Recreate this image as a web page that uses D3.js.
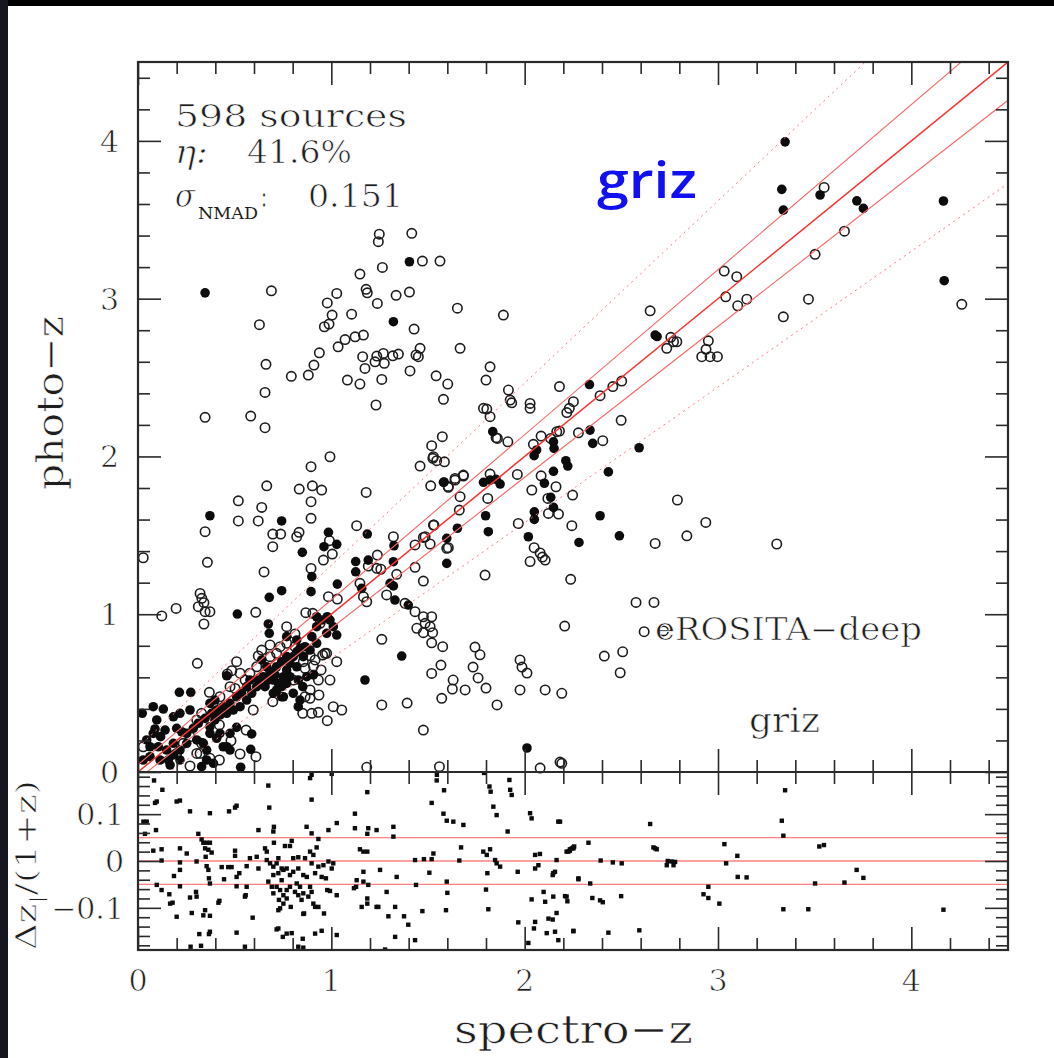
<!DOCTYPE html>
<html><head><meta charset="utf-8">
<script src="https://cdn.jsdelivr.net/npm/d3@7"></script>
<style>
html,body{margin:0;padding:0;background:#fff;}
svg{display:block;}
text{font-family:"DejaVu Serif",serif;fill:#1e1e1e;}
text.thin{stroke:#fff;stroke-width:0.7px;paint-order:normal;}
</style></head>
<body>
<svg id="c" width="1054" height="1058"></svg>
<script>
// ---------------- data ----------------
const filledPoints = [
[0.347,3.037],[1.404,3.234],[1.321,2.854],[1.580,1.836],
[0.372,1.624],[0.743,1.591],[0.850,1.392],[0.985,1.519],[0.962,1.428],[1.028,1.443],[1.186,1.508],[0.514,1.001],[0.743,1.149],[0.679,1.107],[0.899,1.238],[0.895,1.143],[1.031,1.191],[1.126,1.334],[1.126,1.269],[1.191,1.343],[1.321,1.333],[1.324,1.434],[1.157,1.164],[1.321,1.179],[1.304,1.196],[1.329,1.090],[1.398,1.058],[1.597,1.322],[1.597,1.481],[1.364,0.735],[1.174,0.583],[0.829,0.414],[0.852,0.541],[0.907,0.615],[0.743,0.477],[0.588,0.241],[0.531,0.030],[0.583,0.144],[0.510,0.283],[0.459,0.160],[0.372,0.435],[0.398,0.456],[0.214,0.505],[0.273,0.505],[0.459,0.610],[0.679,0.879],[0.674,0.938],[0.924,0.984],[0.979,0.984],[1.028,0.868],[0.022,0.372],[0.079,0.414],[0.131,0.399],[0.097,0.330],[0.088,0.273],[0.117,0.224],[0.183,0.350],[0.217,0.372],[0.269,0.393],[0.200,0.277],[0.226,0.255],[0.183,0.182],[0.148,0.139],[0.062,0.097],[0.027,0.076],[0.114,0.076],[0.217,0.076],[0.166,0.044],[0.329,0.034],[0.338,0.182],[0.304,0.203],[0.372,0.245],[0.355,0.139],[0.355,0.076],[0.390,0.055],
[0.640,0.710],[0.666,0.667],[0.683,0.636],[0.717,0.667],[0.700,0.583],[0.726,0.562],[0.752,0.604],[0.769,0.646],[0.786,0.689],[0.803,0.731],[0.821,0.762],[0.838,0.784],[0.769,0.562],[0.743,0.541],[0.717,0.520],[0.700,0.499],[0.657,0.541],[0.622,0.583],[0.579,0.583],[0.562,0.541],[0.536,0.499],[0.510,0.477],[0.476,0.435],[0.441,0.414],[0.407,0.393],[0.381,0.372],[0.347,0.340],[0.312,0.309],[0.286,0.277],[0.252,0.245],[0.769,0.858],[0.821,0.837],[0.864,0.794],[0.899,0.858],[0.924,0.921],[0.950,0.963],[0.993,0.963],[1.010,0.921],[0.976,0.879],[0.924,0.816],[0.890,0.773],[0.855,0.731],[0.821,0.667],[0.786,0.604],[0.829,0.583],[0.873,0.604],[0.803,0.499],[0.838,0.456],[0.752,0.477],[0.769,0.731],[0.743,0.699],[0.709,0.615],[0.674,0.583],[0.648,0.604],[0.614,0.541],[0.588,0.499],[0.562,0.456],[0.528,0.414],[0.493,0.393],[0.459,0.372],[0.424,0.361],[0.398,0.330],[0.372,0.287],[0.424,0.245],[0.476,0.245],[0.407,0.214],[0.441,0.160],[0.476,0.139],[0.252,0.182],[0.217,0.139],[0.183,0.108],[0.157,0.076],[0.105,0.160],[0.062,0.160],[0.045,0.203],[0.079,0.245],[0.140,0.266],
[1.835,2.157],[2.335,2.456],[2.675,2.769],[2.685,2.760],[2.338,2.167],[2.352,2.083],[2.592,2.055],[2.433,1.902],[2.390,1.624],[2.490,1.497],[2.281,1.455],[2.149,1.906],[2.213,1.973],[2.223,1.939],[2.149,2.093],[2.152,2.051],[2.062,2.041],[2.049,2.005],[2.102,1.830],[2.135,1.741],[2.149,1.677],[2.050,1.649],[2.050,1.601],[1.798,1.624],[1.812,1.523],[1.787,1.836],[1.821,1.850],[1.852,1.855],[1.873,1.825],[1.652,1.545],[1.583,1.838],[2.019,1.491],[2.012,0.152],
[3.347,3.994],[3.330,3.693],[3.338,3.561],[3.528,3.657],[3.718,3.620],[3.752,3.572],[4.166,3.619],[4.170,3.114]
];
const openPoints = [
[0.690,3.050],[0.628,2.835],[0.662,2.584],[0.657,2.406],[0.347,2.248],[0.583,2.256],[0.657,2.182],[0.793,2.508],[0.881,2.516],[0.910,2.579],[0.938,2.657],[1.035,2.695],[1.071,2.741],[1.123,2.758],[1.166,2.769],[0.964,2.822],[0.988,2.839],[1.004,2.896],[0.979,2.973],[1.028,3.033],[1.105,2.902],[1.148,3.156],[1.180,3.059],[1.186,3.037],[1.238,2.970],[1.264,3.198],[1.248,3.409],[1.243,3.361],[1.416,3.414],[1.471,3.238],[1.562,3.238],[1.335,3.021],[1.404,3.042],[1.428,2.807],[1.652,2.940],[1.666,2.685],[1.459,2.685],[1.438,2.643],[1.450,2.632],[1.162,2.632],[1.226,2.600],[1.235,2.636],[1.269,2.653],[1.274,2.590],[1.318,2.638],[1.347,2.649],[1.174,2.558],[1.083,2.484],[1.148,2.459],[1.261,2.488],[1.231,2.326],[1.407,2.542],[1.542,2.511],[1.602,2.459],[1.580,2.362],[1.574,2.125],[1.519,2.068],[1.528,1.998],[1.545,1.973],[1.585,1.966],[1.459,1.939],[1.514,1.814],[1.605,1.810],[1.640,1.861],[1.683,1.882],[0.993,1.998],[0.895,1.935],[0.666,1.814],[0.834,1.793],[0.902,1.814],[0.950,1.787],[1.180,1.772],
[0.027,1.358],[0.123,0.989],[0.197,1.037],[0.312,1.048],[0.341,1.073],[0.321,1.132],[0.330,1.101],[0.347,1.016],[0.372,1.016],[0.341,0.938],[0.359,1.329],[0.347,1.523],[0.519,1.719],[0.519,1.591],[0.640,1.677],[0.622,1.591],[0.697,1.508],[0.738,1.508],[0.697,1.428],[0.821,1.491],[0.833,1.519],[0.895,1.713],[0.895,1.608],[0.990,1.466],[1.005,1.381],[0.959,1.343],[1.131,1.561],[0.652,1.268],[0.609,1.012],[0.895,1.290],[0.985,1.111],[1.031,1.096],[1.191,1.305],[1.238,1.375],[1.235,1.291],[1.256,1.285],[1.321,1.491],[1.338,1.253],[1.148,1.196],[1.166,1.111],[1.183,1.079],[1.286,1.122],[1.381,1.069],[1.433,1.297],[1.433,1.439],[1.476,1.487],[1.528,1.565],[1.476,1.210],[1.597,1.418],[1.433,1.016],[1.476,0.984],[1.519,0.984],[1.485,0.942],[1.511,0.921],[1.442,0.911],[1.476,0.883],[1.524,0.883],[1.519,0.819],[1.576,0.794],[1.567,0.678],[1.519,0.625],[1.571,0.467],[1.626,0.526],[1.476,0.266],[1.261,0.841],[1.261,0.425],[1.183,0.030],[1.559,0.034],[1.028,0.699],[1.054,0.393],[1.010,0.414],[0.979,0.325],[0.933,0.378],[0.936,0.488],[0.890,0.467],[0.852,0.372],[0.947,0.647],[0.976,0.752],[0.907,0.672],[0.855,0.699],[0.697,0.446],[0.596,0.393],[0.559,0.266],[0.610,0.097],[0.528,0.114],[0.481,0.198],[0.421,0.076],[0.372,0.087],[0.421,0.298],[0.369,0.505],[0.307,0.689],[0.462,0.621],[0.485,0.642],[0.510,0.699],[0.502,0.530],[0.622,0.736],[0.769,0.816],[0.812,0.875],[0.868,1.010],[0.904,1.006],[0.942,0.942],[0.955,0.741],[0.890,0.737],[0.027,0.160],[0.269,0.038],[0.321,0.118],
[0.769,0.921],[0.812,0.794],[0.855,0.752],[0.967,0.752],[0.916,0.710],[0.864,0.657],[0.933,0.583],[0.890,0.520],[0.864,0.477],[0.899,0.372],[0.717,0.752],[0.683,0.731],[0.614,0.667],[0.554,0.583],[0.476,0.541],[0.424,0.477],[0.390,0.435],[0.329,0.372],[0.304,0.330],[0.269,0.224],[0.329,0.182],[0.304,0.118],[0.200,0.118],[0.234,0.182],[0.803,0.583],[0.579,0.626],[0.528,0.626],[0.640,0.773],[0.683,0.805],[0.735,0.794],[0.993,0.583],
[1.890,2.896],[1.821,2.568],[1.800,2.484],[1.916,2.421],[1.925,2.357],[1.933,2.340],[1.787,2.305],[1.804,2.300],[1.821,2.252],[1.852,2.119],[1.913,2.093],[2.028,2.336],[2.028,2.305],[2.180,2.443],[2.218,2.278],[2.231,2.305],[2.252,2.347],[2.390,2.385],[2.456,2.443],[2.502,2.478],[2.649,2.923],[2.735,2.685],[2.756,2.755],[2.770,2.727],[2.787,2.727],[2.950,2.733],[2.938,2.679],[2.916,2.632],[2.959,2.632],[2.997,2.632],[2.180,2.161],[2.278,2.150],[2.404,2.100],[2.499,2.229],[2.790,1.724],[2.937,1.582],[2.839,1.497],[2.675,1.449],[2.244,1.561],[2.248,1.755],[2.166,2.157],[2.135,2.114],[2.085,2.129],[2.045,2.077],[2.085,1.877],[2.162,1.808],[2.120,1.734],[2.123,1.639],[2.175,1.635],[2.037,1.787],[1.962,1.886],[1.809,1.734],[1.821,1.888],[1.666,1.745],[1.662,1.660],[1.683,1.876],[1.640,1.850],[1.605,1.804],[1.531,1.565],[1.485,1.491],[1.511,1.445],[1.605,1.422],[1.967,1.575],[2.049,1.422],[2.028,1.334],[2.092,1.362],[1.859,2.114],[1.525,1.988],
[3.549,3.705],[3.654,3.428],[3.502,3.281],[3.468,2.997],[3.338,2.885],[3.032,3.175],[3.097,3.139],[3.040,3.012],[3.102,2.955],[3.149,2.997],[4.261,2.964],
[3.304,1.445],[2.238,1.221],[2.576,1.075],[2.669,1.075],[2.207,0.925],[2.618,0.889],[2.718,0.894],[2.412,0.735],[2.507,0.762],[2.494,0.629],[2.192,0.499],[2.192,0.055],
[1.743,0.792],[1.769,0.743],[1.733,0.665],[1.759,0.596],[1.800,0.532],[1.857,0.425],[1.692,0.520],[1.630,0.583],[1.976,0.710],[1.986,0.665],[2.012,0.627],[2.106,0.520],[1.976,0.520],[2.080,0.025],[2.183,0.063],[1.795,1.248],[2.106,1.343],[2.080,1.388],[1.392,0.437]
];
const residualPoints = [
[0.083,0.172],[0.126,0.152],[0.088,0.124],[0.097,0.127],[0.200,0.127],[0.217,0.129],[0.269,0.106],[0.372,0.102],[0.471,0.106],[0.510,0.118],[0.502,0.114],[0.674,0.161],[0.679,0.114],[0.898,0.184],[0.890,0.177],[1.002,0.186],[0.898,0.131],[1.186,0.147],[1.122,0.101],[1.028,0.081],[0.985,0.066],[0.872,0.073],[0.898,0.059],[0.933,0.047],[1.122,0.070],[1.191,0.070],[1.234,0.066],[1.186,0.058],[1.321,0.073],[1.321,0.052],[1.519,0.124],[1.546,0.184],[1.545,0.172],[1.583,0.151],[1.580,0.101],[1.597,0.086],[1.631,0.084],[1.683,0.077],[1.790,0.188],[1.818,0.159],[1.824,0.148],[1.921,0.173],[1.925,0.152],[1.933,0.141],[1.838,0.116],[1.855,0.098],[1.912,0.063],[2.028,0.102],[2.036,0.091],[2.174,0.084],[2.252,0.027],[2.234,0.022],[0.028,0.084],[0.045,0.084],[0.093,0.066],[0.036,0.058],[0.312,0.058],[0.329,0.046],[0.338,0.039],[0.355,0.039],[0.372,0.039],[0.347,0.027],[0.364,0.024],[0.381,0.018],[0.079,0.022],[0.122,0.025],[0.217,0.027],[0.252,0.016],[0.122,0.001],[0.217,-0.003],[0.217,-0.019],[0.303,-0.001],[0.350,0.009],[0.355,-0.011],[0.364,-0.019],[0.367,-0.037],[0.372,-0.048],[0.186,-0.032],[0.097,-0.051],[0.122,-0.062],[0.217,-0.054],[0.162,-0.071],[0.179,-0.089],[0.166,-0.091],[0.269,-0.078],[0.303,-0.076],[0.300,-0.066],[0.200,-0.119],[0.278,-0.111],[0.338,-0.116],[0.372,-0.117],[0.347,-0.105],[0.421,-0.085],[0.416,-0.089],[0.317,-0.156],[0.372,-0.151],[0.367,-0.156],[0.272,-0.183],[0.326,-0.181],[0.433,-0.013],[0.467,-0.013],[0.484,-0.013],[0.445,-0.039],[0.502,0.022],[0.502,0.011],[0.524,-0.026],[0.510,-0.034],[0.510,-0.054],[0.562,-0.055],[0.553,-0.076],[0.557,-0.073],[0.623,0.066],[0.579,0.006],[0.562,-0.011],[0.623,-0.016],[0.614,0.009],[0.657,0.027],[0.666,0.020],[0.703,0.073],[0.700,0.063],[0.703,0.039],[0.666,0.002],[0.683,-0.005],[0.700,-0.012],[0.717,-0.005],[0.760,0.032],[0.786,0.032],[0.795,0.043],[0.726,0.006],[0.743,-0.016],[0.752,-0.019],[0.700,-0.030],[0.726,-0.026],[0.743,-0.041],[0.674,-0.044],[0.692,-0.055],[0.717,-0.055],[0.735,-0.062],[0.700,-0.069],[0.752,-0.073],[0.769,-0.062],[0.786,-0.055],[0.729,-0.083],[0.752,-0.091],[0.769,-0.080],[0.790,-0.098],[0.726,-0.105],[0.735,-0.101],[0.821,-0.048],[0.838,-0.055],[0.812,-0.066],[0.829,-0.073],[0.855,-0.069],[0.846,-0.083],[0.864,0.006],[0.890,0.020],[0.907,0.013],[0.924,0.029],[0.803,0.006],[0.829,0.008],[0.769,-0.016],[0.786,-0.030],[0.803,-0.023],[0.829,-0.016],[0.855,-0.030],[0.873,-0.034],[0.898,-0.005],[0.916,-0.026],[0.933,-0.012],[0.959,-0.009],[0.985,-0.001],[1.010,-0.005],[1.002,-0.016],[0.950,-0.034],[0.972,-0.037],[0.890,-0.055],[0.898,-0.066],[0.881,-0.076],[0.907,-0.091],[0.916,-0.098],[0.933,-0.098],[0.979,-0.062],[0.993,-0.064],[1.028,-0.073],[0.859,-0.112],[0.855,-0.113],[0.962,-0.112],[0.916,-0.155],[0.950,-0.149],[0.852,-0.166],[0.749,-0.162],[0.769,-0.155],[0.795,-0.154],[0.717,-0.146],[0.726,-0.144],[0.829,-0.183],[0.855,-0.185],[0.593,-0.121],[0.510,-0.153],[0.553,-0.183],[1.148,0.025],[1.166,0.020],[1.186,0.020],[1.166,-0.023],[1.131,-0.041],[1.166,-0.044],[1.191,-0.051],[1.128,-0.055],[1.117,-0.058],[1.252,-0.019],[1.286,-0.066],[1.338,-0.034],[1.186,-0.080],[1.186,-0.091],[1.157,-0.098],[1.234,-0.098],[1.243,-0.098],[1.330,-0.098],[1.295,-0.118],[1.376,-0.118],[1.398,-0.136],[1.330,-0.162],[1.433,-0.169],[1.028,-0.158],[1.278,-0.189],[1.433,0.002],[1.479,0.004],[1.528,0.016],[1.519,0.004],[1.438,-0.051],[1.507,-0.025],[1.597,-0.044],[1.600,-0.068],[1.593,-0.105],[1.471,-0.107],[1.671,0.029],[1.662,0.001],[1.786,0.020],[1.821,0.025],[1.804,0.013],[1.847,0.002],[1.855,-0.005],[1.873,-0.012],[1.807,-0.026],[1.800,-0.061],[1.812,-0.103],[1.964,-0.023],[2.054,0.013],[2.079,0.015],[2.054,-0.016],[2.071,-0.009],[2.165,0.002],[2.148,-0.026],[2.157,-0.023],[2.145,-0.030],[2.217,0.020],[2.234,0.025],[2.252,0.029],[2.278,-0.037],[2.036,-0.082],[2.098,-0.066],[2.106,-0.087],[2.148,-0.076],[2.217,-0.076],[1.967,-0.131],[2.054,-0.130],[2.048,-0.144],[2.123,-0.123],[2.145,-0.125],[2.165,-0.111],[2.114,-0.154],[2.157,-0.151],[2.252,-0.149],[2.174,-0.169],[2.019,-0.175],
[2.183,0.084],[2.649,0.079],[3.347,0.151],[3.330,0.086],[3.338,0.054],[2.330,0.039],[2.226,0.020],[2.244,0.027],[2.256,0.031],[2.666,0.029],[2.683,0.025],[2.675,0.027],[3.033,0.036],[3.100,0.011],[3.042,-0.005],[2.393,0.001],[2.456,-0.003],[2.502,-0.005],[2.740,0.000],[2.735,-0.009],[2.770,-0.009],[2.778,-0.002],[2.760,-0.001],[3.524,0.031],[3.548,0.034],[2.278,-0.039],[2.339,-0.048],[3.102,-0.034],[3.148,-0.035],[3.502,-0.048],[3.654,-0.046],[3.717,-0.019],[3.752,-0.036],[2.950,-0.055],[2.925,-0.071],[2.950,-0.079],[3.007,-0.091],[2.209,-0.075],[2.221,-0.086],[2.350,-0.079],[2.390,-0.084],[2.404,-0.088],[2.499,-0.075],[3.338,-0.103],[3.467,-0.103],[4.166,-0.104],[2.252,-0.150],[2.433,-0.153],[2.593,-0.148]
];
// axis ticks / labels
const xMajorTicks = [0,1,2,3,4];
const xTickLabels = ["0","1","2","3","4"];
const yMajorTicks = [0,1,2,3,4];
const yTickLabels = ["0","1","2","3","4"];
const resMajorTicks = [-0.1,0,0.1];
const resTickLabels = ["\u22120.1","0","0.1"];
const minorStepMain = 0.2, minorStepRes = 0.02;
// reference lines: main panel (fraction of 1+z) and residual panel
const solidBands = [0.046,-0.044];
const dottedBands = [0.155,-0.14];
const resLines = [-0.05,0,0.05];
const statsLines = ["598 sources","41.6%","0.151"];

// ---------------- drawing ----------------
const svg = d3.select("#c");
svg.append("rect").attr("x",0).attr("y",0).attr("width",1054).attr("height",6).attr("fill","#000");
svg.append("rect").attr("x",0).attr("y",0).attr("width",8).attr("height",1058).attr("fill","#161620");

const L=138,R=1008,T=62,MID=772,B=950;
const x = d3.scaleLinear().domain([0,4.5]).range([L,R]);
const y = d3.scaleLinear().domain([0,4.5]).range([MID,T]);
const yr = d3.scaleLinear().domain([-0.19,0.19]).range([B,MID]);

const ink="#2a2a2a";
const defs = svg.append("defs");
defs.append("clipPath").attr("id","clipMain")
  .append("rect").attr("x",L).attr("y",T).attr("width",R-L).attr("height",MID-T);
defs.append("clipPath").attr("id","clipRes")
  .append("rect").attr("x",L).attr("y",MID).attr("width",R-L).attr("height",B-MID);

// points
const gp = svg.append("g");
gp.selectAll("circle.o").data(openPoints).join("circle").attr("class","o")
  .attr("cx",d=>x(d[0])).attr("cy",d=>y(d[1])).attr("r",4.7)
  .attr("fill","none").attr("stroke","#1c1c1c").attr("stroke-width",1.6);
gp.selectAll("circle.f").data(filledPoints).join("circle").attr("class","f")
  .attr("cx",d=>x(d[0])).attr("cy",d=>y(d[1])).attr("r",4.8).attr("fill","#0c0c0c");

// reference lines main
const gl = svg.append("g").attr("clip-path","url(#clipMain)");
const zs = [0,4.5];
gl.append("line").attr("x1",x(0)).attr("y1",y(0)).attr("x2",x(4.5)).attr("y2",y(4.5))
  .attr("stroke","#ff3030").attr("stroke-width",1.5);
solidBands.forEach(k=>{
  gl.append("line").attr("x1",x(zs[0])).attr("y1",y(zs[0]+k*(1+zs[0]))).attr("x2",x(zs[1])).attr("y2",y(zs[1]+k*(1+zs[1])))
    .attr("stroke","#ff6464").attr("stroke-width",1.1);
});
dottedBands.forEach(k=>{
  gl.append("line").attr("x1",x(zs[0])).attr("y1",y(zs[0]+k*(1+zs[0]))).attr("x2",x(zs[1])).attr("y2",y(zs[1]+k*(1+zs[1])))
    .attr("stroke","#ff7a7a").attr("stroke-width",1).attr("stroke-dasharray","2,4");
});

// residual panel
const gr = svg.append("g").attr("clip-path","url(#clipRes)");
resLines.forEach(v=>{
  gr.append("line").attr("x1",L).attr("x2",R).attr("y1",yr(v)).attr("y2",yr(v))
    .attr("stroke","#ff8080").attr("stroke-width",1.4);
});
gr.selectAll("rect.r").data(residualPoints).join("rect").attr("class","r")
  .attr("x",d=>x(d[0])-2.2).attr("y",d=>yr(d[1])-2.2).attr("width",4.4).attr("height",4.4).attr("fill","#0c0c0c");

// ticks via d3 axes (inward)
const MAJ=23, MIN=12;
const xMinor = d3.range(0,4.5001,minorStepMain).filter(v=>Math.abs(v-Math.round(v))>1e-6);
const yMinor = xMinor;
const rMinor = d3.range(-0.18,0.1801,minorStepRes).filter(v=>Math.abs(v*10-Math.round(v*10))>1e-6);
function axisTicks(axisFn, scale, vals, size, tx, ty){
  const g = svg.append("g").attr("transform",`translate(${tx},${ty})`)
    .call(axisFn(scale).tickValues(vals).tickSize(size).tickFormat(""));
  g.select(".domain").remove();
  g.selectAll(".tick line").attr("stroke",ink).attr("stroke-width",1.6);
}
axisTicks(d3.axisBottom,x,xMajorTicks,-MAJ,0,MID);
axisTicks(d3.axisBottom,x,xMinor,-MIN,0,MID);
axisTicks(d3.axisTop,x,xMajorTicks,-MAJ,0,T);
axisTicks(d3.axisTop,x,xMinor,-MIN,0,T);
axisTicks(d3.axisLeft,y,yMajorTicks,-MAJ,L,0);
axisTicks(d3.axisLeft,y,yMinor,-MIN,L,0);
axisTicks(d3.axisRight,y,yMajorTicks,-MAJ,R,0);
axisTicks(d3.axisRight,y,yMinor,-MIN,R,0);
axisTicks(d3.axisTop,x,xMajorTicks,-MAJ,0,MID);
axisTicks(d3.axisTop,x,xMinor,-MIN,0,MID);
axisTicks(d3.axisBottom,x,xMajorTicks,-MAJ,0,B);
axisTicks(d3.axisBottom,x,xMinor,-MIN,0,B);
axisTicks(d3.axisLeft,yr,resMajorTicks,-MAJ,L,0);
axisTicks(d3.axisLeft,yr,rMinor,-MIN,L,0);
axisTicks(d3.axisRight,yr,resMajorTicks,-MAJ,R,0);
axisTicks(d3.axisRight,yr,rMinor,-MIN,R,0);

// frames
svg.append("rect").attr("x",L).attr("y",T).attr("width",R-L).attr("height",B-T)
  .attr("fill","none").attr("stroke",ink).attr("stroke-width",2.2);
svg.append("line").attr("x1",L).attr("x2",R).attr("y1",MID).attr("y2",MID)
  .attr("stroke",ink).attr("stroke-width",2.2);

// text helper: place and stretch horizontally to a target width
function txt(str, px, py, size, width, opt={}){
  const t = svg.append("text").attr("font-size",size).attr("class", opt.plain? null : "thin");
  if(opt.family) t.style("font-family",opt.family);
  if(opt.fill) t.style("fill",opt.fill);
  if(opt.weight) t.attr("font-weight",opt.weight);
  if(opt.italic) t.attr("font-style","italic");
  if(typeof str==="function") str(t); else t.text(str);
  const w = t.node().getComputedTextLength();
  const sx = width? width/w : 1;
  const rot = opt.rotate? ` rotate(${opt.rotate})`:"";
  let dx = 0;
  if(opt.anchor==="middle") dx = -w/2; else if(opt.anchor==="end") dx = -w;
  t.attr("transform",`translate(${px},${py})${rot} scale(${sx},1) translate(${dx},0)`);
  return t;
}

// tick labels
xMajorTicks.forEach((v,i)=>txt(xTickLabels[i], x(v), 991, 30, null, {anchor:"middle"}));
yMajorTicks.forEach((v,i)=>txt(yTickLabels[i], 119, y(v)+11, 30, null, {anchor:"end"}));
resMajorTicks.forEach((v,i)=>txt(resTickLabels[i], 124, yr(v)+11, 30, null, {anchor:"end"}));

// axis titles
txt("spectro\u2212z", 454, 1043, 40, 239);
txt("photo\u2212z", 63, 490, 38, 174, {rotate:-90});
txt(t=>{
  t.append("tspan").text("\u0394z");
  t.append("tspan").attr("font-size",18).attr("dy",7).text("|");
  t.append("tspan").attr("dy",-7).text("/(1+z)");
}, 36, 950, 27, 170, {rotate:-90});

// stats block
txt(statsLines[0], 175, 127, 31, 232);
txt("\u03B7:", 175, 163, 31, 33, {italic:true});
txt(statsLines[1], 247, 163, 31, 105);
txt("\u03C3", 175, 207, 31, 20, {italic:true});
txt("NMAD", 198, 219, 17, 60, {plain:true});
txt(":", 261, 207, 31, 6);
txt(statsLines[2], 308, 207, 31, 95);

// annotations
txt("griz", 597, 198, 50, 100, {family:"'Open Sans',sans-serif", fill:"#1010f2", weight:600, plain:true});
txt("eROSITA\u2212deep", 655, 640, 31, 267);
txt("griz", 749, 732, 33, 71);
</script>
</body></html>
